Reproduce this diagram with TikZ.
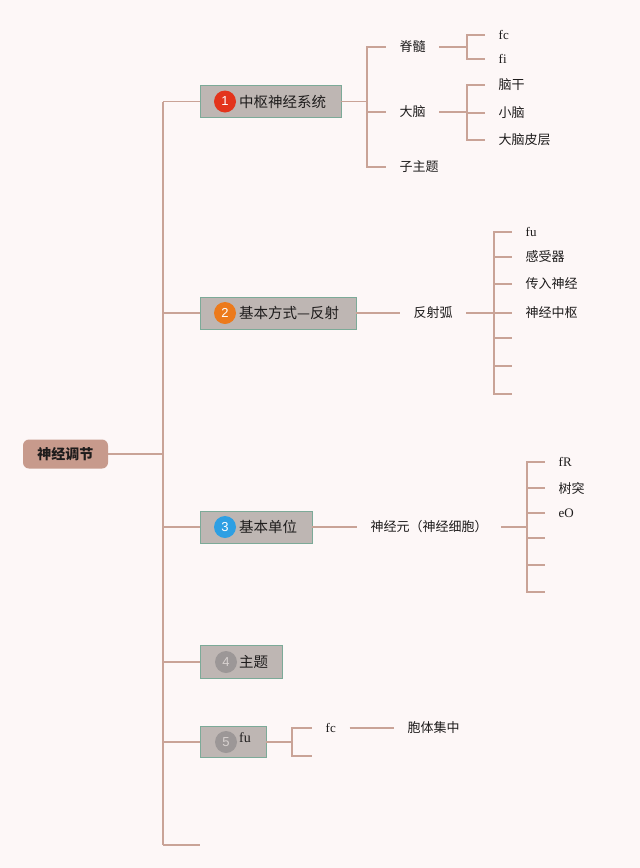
\documentclass[tikz,border=0pt]{standalone}
\usepackage{fontspec}
\setmainfont{Liberation Serif}
\newfontfamily\cjk{Noto Sans CJK SC}
\newfontfamily\digitfont{Liberation Sans}
\usepackage{tikz}
\usetikzlibrary{positioning}
\definecolor{mybg}{RGB}{253,247,247}
\definecolor{mylink}{RGB}{201,163,151}
\definecolor{myroot}{RGB}{199,154,140}
\definecolor{mybox}{RGB}{190,182,179}
\definecolor{myedge}{RGB}{124,170,152}
\definecolor{myred}{RGB}{227,52,28}
\definecolor{myorange}{RGB}{236,122,28}
\definecolor{myblue}{RGB}{46,159,227}
\definecolor{mygray}{RGB}{156,151,151}
\definecolor{mydigit}{RGB}{216,210,208}
\definecolor{mytext}{RGB}{30,28,28}

\begin{document}
\begin{tikzpicture}[x=1pt,y=-1pt,
          rootnode/.style={fill=myroot,rounded corners=6pt,minimum width=85pt,minimum height=29pt,
            font=\cjk\bfseries\fontsize{14}{16}\selectfont,text=mytext},
          topicbox/.style={draw=myedge,line width=0.9pt,fill=mybox,inner sep=0pt},
          badge/.style={circle,inner sep=0pt,minimum size=22pt,font=\digitfont\fontsize{13}{15}\selectfont,text=white},
          topic/.style={anchor=west,inner sep=0pt,font=\cjk\fontsize{14.5}{16}\selectfont,text=mytext},
          leaf/.style={anchor=west,inner ysep=2pt,inner xsep=13.5pt,font=\cjk\fontsize{13}{15}\selectfont,text=mytext},
          word/.style={leaf,font=\rmfamily\fontsize{13}{15}\selectfont},
          link/.style={draw=mylink,line width=1.6pt},
          trunk/.style={link,line width=2.6pt}
          ]
          \fill[mybg] (0,0) rectangle (640,868);
          % the root
          \node[rootnode] (root) at (65.5,454) {神经调节};
          % the spine
          \coordinate (s0) at (163,454);
          \foreach \i/\y in {1/101.5,2/313,3/527,4/662,5/742,6/845}
            \coordinate (s\i) at (163,\y);
          \draw[link] (s1) -- (s6);
          \draw[link] (root) -- (s0);
          % the main topics
          \node[topicbox,minimum width=141pt,minimum height=32pt] (b1) at (270.5,101.5) {};
          \node[badge,fill=myred] (n1) at (225,101.5) {1};
          \node[topic] (t1) at (239,101.5) {中枢神经系统};
          \node[topicbox,minimum width=156pt,minimum height=32pt] (b2) at (278,313) {};
          \node[badge,fill=myorange] (n2) at (225,313) {2};
          \node[topic] (t2) at (239,313) {基本方式—反射};
          \node[topicbox,minimum width=112pt,minimum height=32pt] (b3) at (256,527) {};
          \node[badge,fill=myblue] (n3) at (225,527) {3};
          \node[topic] (t3) at (239,527) {基本单位};
          \node[topicbox,minimum width=82pt,minimum height=33pt] (b4) at (241,662) {};
          \node[badge,fill=mygray,text=mydigit] (n4) at (226,662) {4};
          \node[topic] (t4) at (239,662) {主题};
          \node[topicbox,minimum width=66pt,minimum height=31pt] (b5) at (233,742) {};
          \node[badge,fill=mygray,text=mydigit] (n5) at (226,742) {5};
          \node[topic,font=\rmfamily\fontsize{14}{16}\selectfont] (t5) at (239,738) {fu};
          \foreach \i in {1,...,5}
            \draw[link] (s\i) -- (b\i);
          \coordinate (e6) at (200,845);
          \draw[link] (s6) -- (e6);
          % the central nervous system
          \coordinate (v1) at (367,101.5);
          \draw[link] (b1) -- (v1);
          \node[leaf] (k1) at (386,47) {脊髓};
          \node[leaf] (k2) at (386,112) {大脑};
          \node[leaf] (k3) at (386,167) {子主题};
          \foreach \k in {k1,k2,k3}
            \draw[link] (v1) |- (\k);
          \coordinate (v11) at (467,47);
          \draw[link] (k1) -- (v11);
          \node[word] (m1) at (485,35) {fc};
          \node[word] (m2) at (485,59) {fi};
          \coordinate (v12) at (467,112);
          \draw[link] (k2) -- (v12);
          \node[leaf] (m3) at (485,85) {脑干};
          \node[leaf] (m4) at (485,113) {小脑};
          \node[leaf] (m5) at (485,140) {大脑皮层};
          \foreach \m in {m1,m2}
            \draw[link] (v11) |- (\m);
          \foreach \m in {m3,m4,m5}
            \draw[link] (v12) |- (\m);
          % the reflex arc
          \node[leaf] (k4) at (400,313) {反射弧};
          \draw[link] (b2) -- (k4);
          \coordinate (v2) at (494,313);
          \draw[trunk] (k4) -- (v2);
          \node[word] (r1) at (512,232) {fu};
          \node[leaf] (r2) at (512,257) {感受器};
          \node[leaf] (r3) at (512,284) {传入神经};
          \node[leaf] (r4) at (512,313) {神经中枢};
          \foreach \i/\y in {5/338,6/366,7/394}
            \coordinate (r\i) at (512,\y);
          \foreach \i in {1,...,7}
            \draw[link] (v2) |- (r\i);
          % the neuron
          \node[leaf] (k5) at (357,527) {神经元（神经细胞）};
          \draw[link] (b3) -- (k5);
          \coordinate (v3) at (527,527);
          \draw[trunk] (k5) -- (v3);
          \node[word] (q1) at (545,462) {fR};
          \node[leaf] (q2) at (545,488) {树突};
          \node[word] (q3) at (545,513) {eO};
          \foreach \i/\y in {4/538,5/565,6/592}
            \coordinate (q\i) at (545,\y);
          \foreach \i in {1,...,6}
            \draw[link] (v3) |- (q\i);
          % the fifth topic
          \coordinate (v5) at (292,742);
          \draw[link] (b5) -- (v5);
          \node[word] (k6) at (312,728) {fc};
          \coordinate (k7) at (312,756);
          \draw[link] (v5) |- (k6);
          \draw[link] (v5) |- (k7);
          \node[leaf] (k8) at (394,728) {胞体集中};
          \draw[link] (k6) -- (k8);
        \end{tikzpicture}
\end{document}
